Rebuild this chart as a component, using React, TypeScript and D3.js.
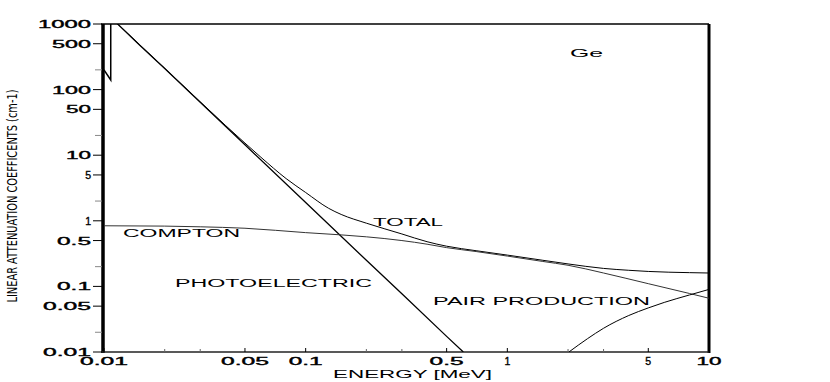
import React, { useEffect, useRef } from "react";
import * as d3 from "d3";

// energy in MeV, linear attenuation in cm^-1 (Ge)
const energyTicks = [0.01, 0.05, 0.1, 0.5, 1, 5, 10];
const energyTickLabels = ["0.01", "0.05", "0.1", "0.5", "1", "5", "10"];
const energyMinor = [0.02, 0.03, 0.2, 0.3, 2, 3];
const muTicks = [1000, 500, 100, 50, 10, 5, 1, 0.5, 0.1, 0.05, 0.01];
const muTickLabels = ["1000", "500", "100", "50", "10", "5", "1", "0.5", "0.1", "0.05", "0.01"];
const muMinor = [200, 20, 2, 0.2, 0.02];

// below the K edge (shared by total and photoelectric)
const kEdgeLow: [number, number][] = [[0.01, 200], [0.0108, 140]];

const photoelectric: [number, number][] = [
  [0.0108, 1260], [0.015, 480], [0.02, 210], [0.03, 64], [0.05, 14.4],
  [0.1, 1.9], [0.2, 0.25], [0.3, 0.077], [0.5, 0.0173], [0.605, 0.01],
];

const total: [number, number][] = [
  [0.0108, 1262], [0.015, 485], [0.02, 211], [0.03, 65], [0.04, 28.5],
  [0.05, 15.3], [0.06, 9.3], [0.08, 4.4], [0.1, 2.7], [0.13, 1.55],
  [0.15, 1.25], [0.2, 0.92], [0.3, 0.63], [0.4, 0.48], [0.5, 0.41],
  [0.7, 0.35], [1, 0.3], [1.5, 0.25], [2, 0.22], [3, 0.188],
  [4, 0.176], [5, 0.169], [8, 0.162], [10, 0.16],
];

const compton: [number, number][] = [
  [0.01, 0.84], [0.02, 0.83], [0.03, 0.81], [0.05, 0.77], [0.1, 0.66],
  [0.15, 0.61], [0.2, 0.57], [0.3, 0.5], [0.4, 0.44], [0.5, 0.39],
  [0.7, 0.34], [1, 0.29], [1.5, 0.24], [2, 0.21], [3, 0.16],
  [5, 0.11], [8, 0.078], [10, 0.066],
];

const pairProduction: [number, number][] = [
  [2.02, 0.01], [2.5, 0.016], [3, 0.023], [4, 0.036], [5, 0.047],
  [6, 0.057], [8, 0.074], [10, 0.09],
];

const W = 830;
const H = 382;
const left = 104, right = 709, top = 24, bottom = 352;
const font = "'Liberation Sans', Arial, sans-serif";

// width of the wide, spaced-out tick labels
function labelWidth(s: string) {
  const dots = s.split(".").length - 1;
  return (s.length - dots) * 14 + dots * 9 - 3;
}

export default function App() {
  const ref = useRef<SVGSVGElement>(null);

  useEffect(() => {
    const svg = d3.select(ref.current);
    svg.selectAll("*").remove();

    const x = d3.scaleLog().domain([0.01, 10]).range([left, right]);
    const y = d3.scaleLog().domain([0.01, 1000]).range([bottom, top]);

    svg.append("defs").append("clipPath").attr("id", "plot")
      .append("rect").attr("x", left).attr("y", top)
      .attr("width", right - left).attr("height", bottom - top);

    // frame
    svg.append("line").attr("x1", left - 1).attr("x2", left - 1)
      .attr("y1", top).attr("y2", bottom + 1)
      .attr("stroke", "#000").attr("stroke-width", 3.5);
    svg.append("line").attr("x1", right).attr("x2", right)
      .attr("y1", top).attr("y2", bottom + 1)
      .attr("stroke", "#000").attr("stroke-width", 3);
    svg.append("line").attr("x1", left - 3).attr("x2", right)
      .attr("y1", top).attr("y2", top)
      .attr("stroke", "#000").attr("stroke-width", 1.3);
    svg.append("line").attr("x1", left - 3).attr("x2", right)
      .attr("y1", bottom).attr("y2", bottom)
      .attr("stroke", "#222").attr("stroke-width", 1.6);

    // y ticks
    svg.selectAll(".ytick").data(muTicks).enter().append("line")
      .attr("x1", left - 11).attr("x2", left - 2)
      .attr("y1", d => y(d)).attr("y2", d => y(d))
      .attr("stroke", "#000").attr("stroke-width", 1);
    svg.selectAll(".ymin").data(muMinor).enter().append("line")
      .attr("x1", left - 9).attr("x2", left - 2)
      .attr("y1", d => y(d)).attr("y2", d => y(d))
      .attr("stroke", "#888").attr("stroke-width", 1);
    svg.selectAll(".ylab").data(muTicks).enter().append("text")
      .attr("x", left - 13).attr("y", d => y(d) + 4)
      .attr("text-anchor", "end")
      .attr("font-family", font).attr("font-size", 10.5)
      .attr("stroke", "#000").attr("stroke-width", 0.35)
      .attr("textLength", (d, i) => muTickLabels[i].length > 1 ? labelWidth(muTickLabels[i]) : null)
      .attr("lengthAdjust", "spacingAndGlyphs")
      .text((d, i) => muTickLabels[i]);

    // x ticks
    svg.selectAll(".xtick").data(energyTicks).enter().append("line")
      .attr("x1", d => x(d)).attr("x2", d => x(d))
      .attr("y1", bottom).attr("y2", bottom - 4)
      .attr("stroke", "#000");
    svg.selectAll(".xmin").data(energyMinor).enter().append("line")
      .attr("x1", d => x(d)).attr("x2", d => x(d))
      .attr("y1", bottom).attr("y2", bottom - 3)
      .attr("stroke", "#666");
    svg.selectAll(".xlab").data(energyTicks).enter().append("text")
      .attr("x", d => x(d)).attr("y", 365)
      .attr("text-anchor", "middle")
      .attr("font-family", font).attr("font-size", 10.5)
      .attr("stroke", "#000").attr("stroke-width", 0.35)
      .attr("textLength", (d, i) => energyTickLabels[i].length > 1 ? labelWidth(energyTickLabels[i]) : null)
      .attr("lengthAdjust", "spacingAndGlyphs")
      .text((d, i) => energyTickLabels[i]);

    // axis titles
    svg.append("text").attr("x", 333).attr("y", 378)
      .attr("font-family", font).attr("font-size", 11.5)
      .attr("textLength", 159).attr("lengthAdjust", "spacingAndGlyphs")
      .text("ENERGY [MeV]");
    svg.append("text")
      .attr("transform", "translate(17,196) rotate(-90)")
      .attr("text-anchor", "middle")
      .attr("font-family", "'DejaVu Sans Condensed', 'Liberation Sans Narrow', sans-serif")
      .attr("font-size", 14.5)
      .attr("textLength", 213).attr("lengthAdjust", "spacingAndGlyphs")
      .text("LINEAR ATTENUATION COEFFICENTS (cm-1)");

    // curves
    const g = svg.append("g").attr("clip-path", "url(#plot)");
    const straight = d3.line<[number, number]>().x(d => x(d[0])).y(d => y(d[1]));
    const smooth = d3.line<[number, number]>().x(d => x(d[0])).y(d => y(d[1]))
      .curve(d3.curveMonotoneX);

    g.append("path").attr("d", straight([...kEdgeLow, photoelectric[0]]))
      .attr("fill", "none").attr("stroke", "#000").attr("stroke-width", 1.5);
    g.append("path").attr("d", straight(photoelectric))
      .attr("fill", "none").attr("stroke", "#000").attr("stroke-width", 1.3);
    g.append("path").attr("d", smooth(total))
      .attr("fill", "none").attr("stroke", "#000").attr("stroke-width", 1);
    g.append("path").attr("d", smooth(compton))
      .attr("fill", "none").attr("stroke", "#333").attr("stroke-width", 1);
    g.append("path").attr("d", smooth(pairProduction))
      .attr("fill", "none").attr("stroke", "#000").attr("stroke-width", 1);

    // curve labels
    const labels: [string, number, number, number][] = [
      ["Ge", 570, 57, 33],
      ["TOTAL", 373, 226, 70],
      ["COMPTON", 123, 237, 117],
      ["PHOTOELECTRIC", 175, 287, 197],
      ["PAIR PRODUCTION", 433, 305, 217],
    ];
    svg.selectAll(".clab").data(labels).enter().append("text")
      .attr("x", d => d[1]).attr("y", d => d[2])
      .attr("font-family", font).attr("font-size", 10)
      .attr("textLength", d => d[3]).attr("lengthAdjust", "spacingAndGlyphs")
      .text(d => d[0]);
  }, []);

  return (
    <svg ref={ref} width={W} height={H}
      style={{ position: "absolute", left: 0, top: 0, background: "#fff" }} />
  );
}
